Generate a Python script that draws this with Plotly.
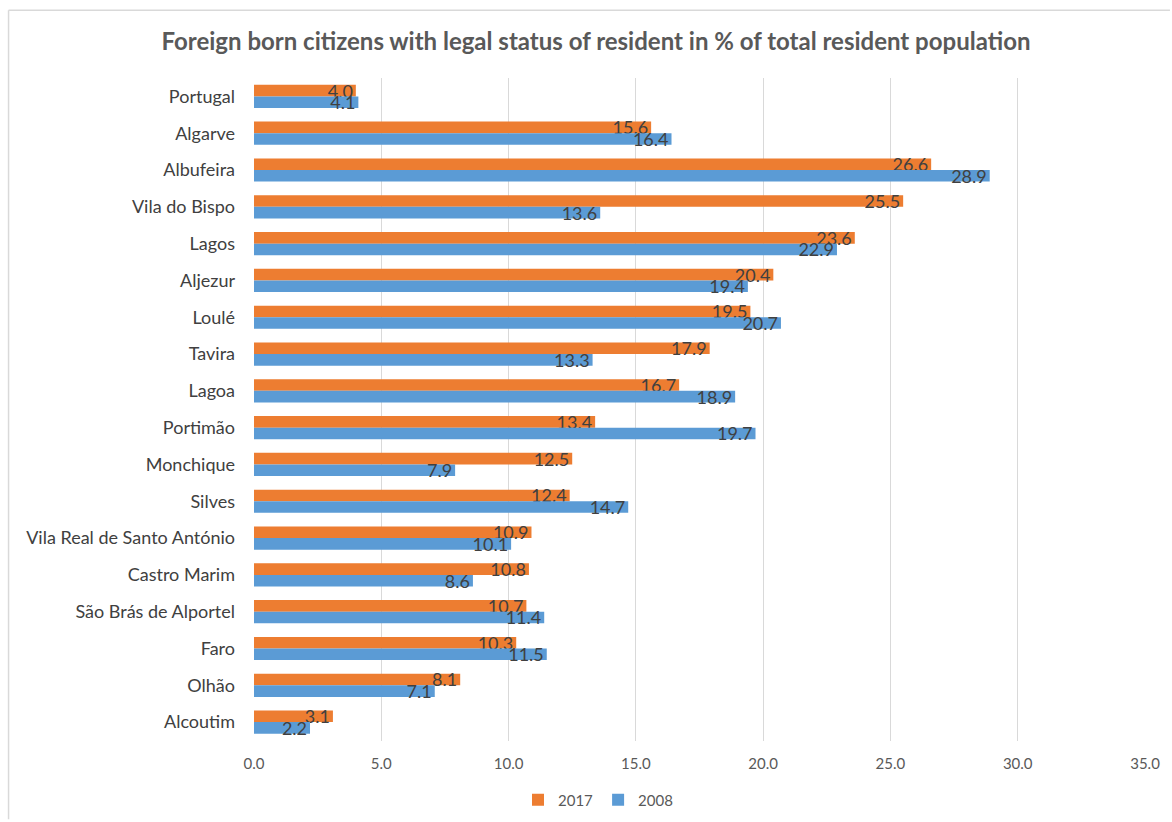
import plotly.graph_objects as go

categories = ["Portugal", "Algarve", "Albufeira", "Vila do Bispo", "Lagos", "Aljezur", "Loulé",
              "Tavira", "Lagoa", "Portimão", "Monchique", "Silves", "Vila Real de Santo António",
              "Castro Marim", "São Brás de Alportel", "Faro", "Olhão", "Alcoutim"]
values_2017 = [4.0, 15.6, 26.6, 25.5, 23.6, 20.4, 19.5, 17.9, 16.7, 13.4, 12.5, 12.4, 10.9, 10.8, 10.7, 10.3, 8.1, 3.1]
values_2008 = [4.1, 16.4, 28.9, 13.6, 22.9, 19.4, 20.7, 13.3, 18.9, 19.7, 7.9, 14.7, 10.1, 8.6, 11.4, 11.5, 7.1, 2.2]
x_ticks = [0, 5, 10, 15, 20, 25, 30, 35]

FONT = "Lato"
W, H = 1172, 822
L, R, T, B = 254, 25, 78, 79
pw, ph = W - L - R, H - T - B

def px_x(x):
    return (x - L) / pw

def px_y(y):
    return 1 - (y - T) / ph

fig = go.Figure()
for name, vals, color in [("2017", values_2017, "#ED7D31"), ("2008", values_2008, "#5B9BD5")]:
    fig.add_trace(go.Bar(
        y=categories, x=vals, name=name, orientation="h",
        marker=dict(color=color, line=dict(width=0)),
        text=[f"{v:.1f}" for v in vals], textposition="inside", insidetextanchor="end",
        constraintext="none", textangle=0,
        textfont=dict(family=FONT, size=18, color="#404040"),
        cliponaxis=False,
    ))

fig.update_layout(
    width=W, height=H,
    margin=dict(l=L, r=R, t=T, b=B),
    paper_bgcolor="white", plot_bgcolor="white",
    barmode="group", bargap=0.37, bargroupgap=0,
    title=dict(text="<b>Foreign born citizens with legal status of resident in % of total resident population</b>",
               x=596 / W, xref="container", xanchor="center", y=1 - 42 / H, yref="container", yanchor="middle",
               font=dict(family=FONT, size=24, color="#595959")),
    xaxis=dict(range=[0, 35], tickvals=x_ticks, ticktext=[f"{v:.1f}" for v in x_ticks],
               showgrid=True, gridcolor="#D9D9D9", gridwidth=1, zeroline=False,
               showline=False, tickfont=dict(family=FONT, size=15, color="#595959"),
               ticks="", ticklabelstandoff=12),
    yaxis=dict(autorange="reversed", showgrid=False, showline=False, zeroline=False,
               tickfont=dict(family=FONT, size=18, color="#404040"), ticks="",
               ticklabelstandoff=18),
    legend=dict(orientation="h", x=598 / W, xanchor="center", xref="container",
                y=1 - 800 / H, yref="container", yanchor="middle", itemwidth=30,
                font=dict(family=FONT, size=15, color="#595959"), traceorder="normal"),
    showlegend=True,
    shapes=[
        dict(type="line", xref="paper", yref="paper", x0=px_x(8), x1=px_x(8), y0=px_y(10), y1=px_y(822),
             line=dict(color="#D9D9D9", width=1.5)),
        dict(type="line", xref="paper", yref="paper", x0=px_x(8), x1=px_x(1172), y0=px_y(10), y1=px_y(10),
             line=dict(color="#D9D9D9", width=1.5)),
    ],
)

fig.write_html("out.html")
